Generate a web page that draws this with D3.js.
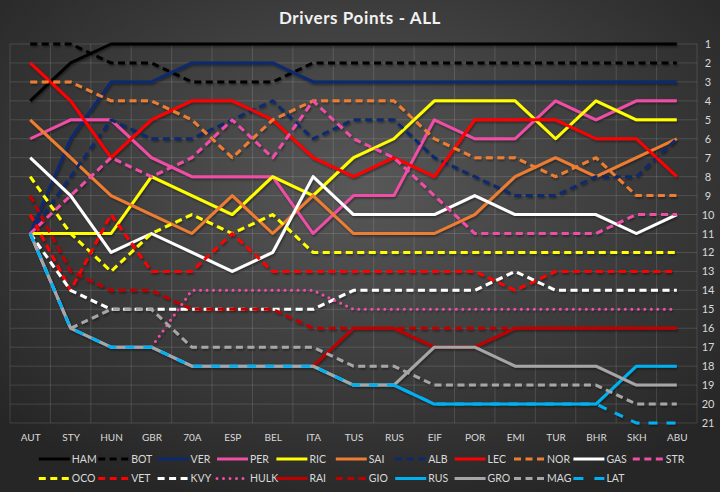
<!DOCTYPE html>
<html>
<head>
<meta charset="utf-8">
<script src="https://cdn.jsdelivr.net/npm/d3@7"></script>
<style>
  html, body { margin: 0; padding: 0; background: #333; }
  svg { display: block; font-family: Lato, "Open Sans", sans-serif; }
</style>
</head>
<body>
<div id="chart"></div>
<script>
// races, in order
const races = ["AUT", "STY", "HUN", "GBR", "70A", "ESP", "BEL", "ITA", "TUS",
  "RUS", "EIF", "POR", "EMI", "TUR", "BHR", "SKH", "ABU"];

// right axis tick labels (championship position)
const rankTicks = [1, 2, 3, 4, 5, 6, 7, 8, 9, 10, 11, 12, 13, 14, 15, 16, 17, 18, 19, 20, 21];

// championship position after each race
const HAM = [4, 2, 1, 1, 1, 1, 1, 1, 1, 1, 1, 1, 1, 1, 1, 1, 1];
const BOT = [1, 1, 2, 2, 3, 3, 3, 2, 2, 2, 2, 2, 2, 2, 2, 2, 2];
const VER = [11, 6, 3, 3, 2, 2, 2, 3, 3, 3, 3, 3, 3, 3, 3, 3, 3];
const PER = [6, 5, 5, 7, 8, 8, 8, 11, 9, 9, 5, 6, 6, 4, 5, 4, 4];
const RIC = [11, 11, 11, 8, 9, 10, 8, 9, 7, 6, 4, 4, 4, 6, 4, 5, 5];
const SAI = [5, 7, 9, 10, 11, 9, 11, 9, 11, 11, 11, 10, 8, 7, 8, 7, 6];
const ALB = [11, 8, 5, 6, 6, 5, 4, 6, 5, 5, 7, 8, 9, 9, 8, 8, 6];
const LEC = [2, 4, 7, 5, 4, 4, 5, 7, 8, 7, 8, 5, 5, 5, 6, 6, 8];
const NOR = [3, 3, 4, 4, 5, 7, 5, 4, 4, 4, 6, 7, 7, 8, 7, 9, 9];
const GAS = [7, 9, 12, 11, 12, 13, 12, 8, 10, 10, 10, 9, 10, 10, 10, 11, 10];
const STR = [11, 9, 7, 8, 7, 5, 7, 4, 6, 7, 9, 11, 11, 11, 11, 10, 10];
const OCO = [8, 11, 13, 11, 10, 11, 10, 12, 12, 12, 12, 12, 12, 12, 12, 12, 12];
const VET = [10, 14, 10, 13, 13, 11, 13, 13, 13, 13, 13, 13, 14, 13, 13, 13, 13];
const KVY = [11, 14, 15, 15, 15, 15, 15, 15, 14, 14, 14, 14, 13, 14, 14, 14, 14];
const HULK = [11, 16, 17, 17, 14, 14, 14, 14, 15, 15, 15, 15, 15, 15, 15, 15, 15];
const RAI = [11, 16, 17, 17, 18, 18, 18, 18, 16, 16, 17, 17, 16, 16, 16, 16, 16];
const GIO = [9, 13, 14, 14, 15, 15, 15, 16, 16, 16, 16, 16, 16, 16, 16, 16, 16];
const RUS = [11, 16, 17, 17, 18, 18, 18, 18, 19, 19, 20, 20, 20, 20, 20, 18, 18];
const GRO = [11, 16, 17, 17, 18, 18, 18, 18, 19, 19, 17, 17, 18, 18, 18, 19, 19];
const MAG = [11, 16, 15, 15, 17, 17, 17, 17, 18, 18, 19, 19, 19, 19, 19, 20, 20];
const LAT = [11, 16, 17, 17, 18, 18, 18, 18, 19, 19, 20, 20, 20, 20, 20, 21, 21];

const driverNames = ["HAM", "BOT", "VER", "PER", "RIC", "SAI", "ALB", "LEC", "NOR", "GAS", "STR",
  "OCO", "VET", "KVY", "HULK", "RAI", "GIO", "RUS", "GRO", "MAG", "LAT"];
const driverRanks = [HAM, BOT, VER, PER, RIC, SAI, ALB, LEC, NOR, GAS, STR,
  OCO, VET, KVY, HULK, RAI, GIO, RUS, GRO, MAG, LAT];

// line look for each driver
const dash = "7,4.5", dots = "0,6.5", longDash = "9,9";
const styles = {
  HAM: {c: "#000000"}, BOT: {c: "#000000", d: dash},
  VER: {c: "#0b2a6e"}, PER: {c: "#f04ea6"}, RIC: {c: "#ffff00"},
  SAI: {c: "#ed7d31"}, ALB: {c: "#0b2a6e", d: dash}, LEC: {c: "#ff0000"},
  NOR: {c: "#ed7d31", d: dash}, GAS: {c: "#ffffff"}, STR: {c: "#f04ea6", d: dash},
  OCO: {c: "#ffff00", d: dash}, VET: {c: "#ff0000", d: dash}, KVY: {c: "#ffffff", d: dash},
  HULK: {c: "#f04ea6", d: dots, round: true}, RAI: {c: "#c00000"}, GIO: {c: "#c00000", d: dash},
  RUS: {c: "#00b0f0"}, GRO: {c: "#a6a6a6"}, MAG: {c: "#a6a6a6", d: dash}, LAT: {c: "#00b0f0", d: longDash}
};

const series = driverNames.map((name, i) => ({name: name, ranks: driverRanks[i]}));

const width = 720, height = 492;
const plot = {left: 10, right: 697, top: 44, bottom: 423};

const svg = d3.select("#chart").append("svg")
  .attr("width", width)
  .attr("height", height);

// background
const defs = svg.append("defs");
const grad = defs.append("radialGradient")
  .attr("id", "bg")
  .attr("cx", "50%").attr("cy", "38%").attr("r", "68%");
grad.append("stop").attr("offset", "0%").attr("stop-color", "#585858");
grad.append("stop").attr("offset", "100%").attr("stop-color", "#262626");

const shadow = defs.append("filter").attr("id", "shadow")
  .attr("x", "-5%").attr("y", "-5%").attr("width", "110%").attr("height", "110%");
shadow.append("feDropShadow")
  .attr("dx", 1).attr("dy", 1.5).attr("stdDeviation", 1)
  .attr("flood-color", "#000").attr("flood-opacity", 0.45);

svg.append("rect")
  .attr("width", width).attr("height", height)
  .attr("fill", "url(#bg)");

// scales
const x = d3.scalePoint()
  .domain(races)
  .range([plot.left, plot.right])
  .padding(0.5);

const y = d3.scaleLinear()
  .domain([1, 21])
  .range([plot.top, plot.bottom]);

const step = x.step();

// gridlines
const grid = svg.append("g").attr("stroke", "#ffffff").attr("stroke-opacity", 0.13).attr("stroke-width", 1);
grid.selectAll("line.h")
  .data(rankTicks)
  .enter().append("line")
  .attr("x1", plot.left).attr("x2", plot.right)
  .attr("y1", d => y(d)).attr("y2", d => y(d));
grid.selectAll("line.v")
  .data(races.concat(["end"]))
  .enter().append("line")
  .attr("x1", (d, i) => plot.left + i * step)
  .attr("x2", (d, i) => plot.left + i * step)
  .attr("y1", plot.top).attr("y2", plot.bottom);

// title
svg.append("text")
  .attr("x", 360).attr("y", 24)
  .attr("text-anchor", "middle")
  .attr("fill", "#f2f2f2")
  .style("font-size", "17px")
  .style("font-weight", "bold")
  .style("letter-spacing", "0.6px")
  .text("Drivers Points - ALL");

// x axis labels
svg.append("g")
  .attr("transform", "translate(0," + 437 + ")")
  .call(d3.axisBottom(x).tickSize(0).tickPadding(0))
  .call(g => g.select(".domain").remove())
  .selectAll("text")
  .attr("fill", "#d9d9d9")
  .attr("dy", "0.35em")
  .style("font-size", "10px")
  .style("font-family", "Lato, 'Open Sans', sans-serif");

// right axis labels
svg.append("g")
  .attr("transform", "translate(708,0)")
  .call(d3.axisRight(y).tickValues(rankTicks).tickFormat(d3.format("d")).tickSize(0).tickPadding(0))
  .call(g => g.select(".domain").remove())
  .selectAll("text")
  .attr("fill", "#d9d9d9")
  .attr("text-anchor", "middle")
  .style("font-size", "11px")
  .style("font-family", "Lato, 'Open Sans', sans-serif");

// driver lines
const line = d3.line()
  .x((d, i) => x(races[i]))
  .y(d => y(d));

svg.append("g")
  .attr("filter", "url(#shadow)")
  .selectAll("path")
  .data(series)
  .enter().append("path")
  .attr("d", d => line(d.ranks))
  .attr("fill", "none")
  .attr("stroke", d => styles[d.name].c)
  .attr("stroke-width", 3)
  .attr("stroke-linejoin", "round")
  .attr("stroke-linecap", d => styles[d.name].round ? "round" : "butt")
  .attr("stroke-dasharray", d => styles[d.name].d || null);

// legend, two rows
const legend = svg.append("g");
const item = legend.selectAll("g")
  .data(series)
  .enter().append("g")
  .attr("transform", (d, i) => {
    let col = i < 11 ? i : i - 11;
    let row = i < 11 ? 0 : 1;
    return "translate(" + (38.8 + col * 59.4) + "," + (459 + row * 19.5) + ")";
  });
item.append("line")
  .attr("x1", 0).attr("x2", 31)
  .attr("stroke", d => styles[d.name].c)
  .attr("stroke-width", 3)
  .attr("stroke-linecap", d => styles[d.name].round ? "round" : "butt")
  .attr("stroke-dasharray", d => styles[d.name].d === longDash ? "10,11" : (styles[d.name].d || null));
item.append("text")
  .attr("x", 33)
  .attr("dy", "0.35em")
  .attr("fill", "#d9d9d9")
  .style("font-size", "10.5px")
  .text(d => d.name);
</script>
</body>
</html>
